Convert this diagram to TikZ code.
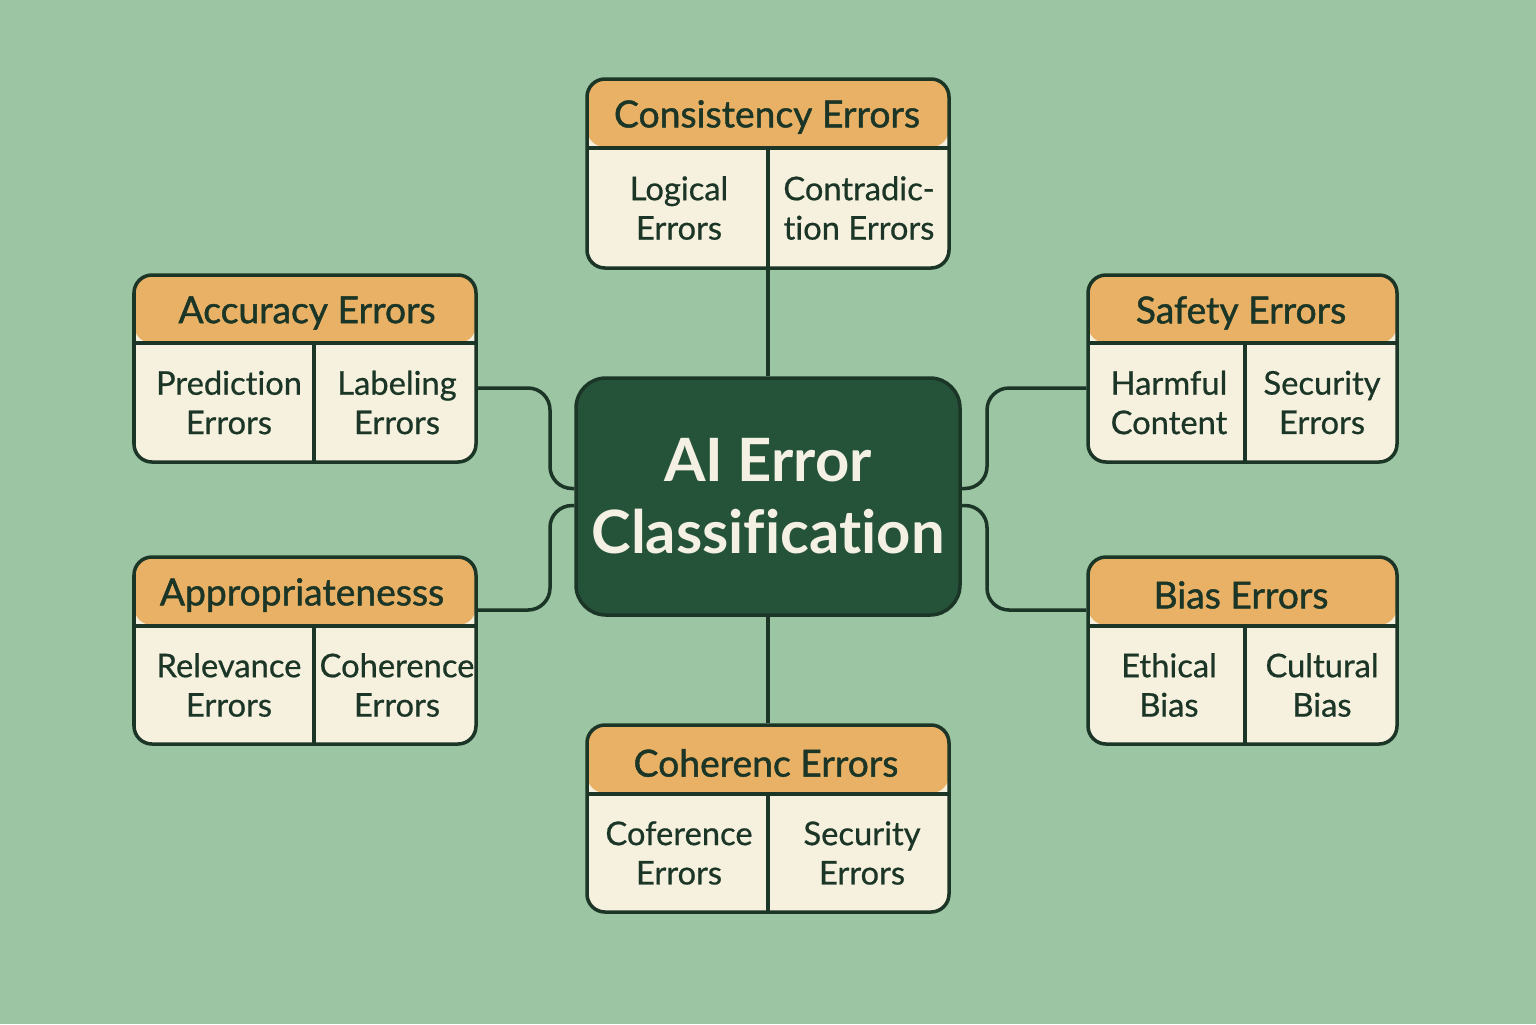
\documentclass[tikz,border=0pt]{standalone}
\usepackage{fontspec}
\setmainfont{Lato}[Ligatures=NoCommon]
\newfontfamily\headfont{Lato}[Ligatures=NoCommon, FakeBold=1.2]
\newfontfamily\cellfont{Lato}[Ligatures=NoCommon, FakeBold=0.6]
\definecolor{bggreen}{HTML}{9CC5A3}
\definecolor{dkgreen}{HTML}{25533A}
\definecolor{ink}{HTML}{1B3526}
\definecolor{headfill}{HTML}{E9B166}
\definecolor{cellfill}{HTML}{F6F1DE}
\definecolor{titletxt}{HTML}{F4F0E3}

\begin{document}
\begin{tikzpicture}[
  catbox/.style={draw=ink, line width=1pt, fill=cellfill, rounded corners=0.18cm, inner sep=0pt,
    path picture={\fill[headfill] (path picture bounding box.north west) rectangle ([yshift=-0.68cm]path picture bounding box.north east);}},
  ctrbox/.style={draw=ink, line width=1pt, fill=dkgreen, rounded corners=0.3cm, inner sep=0pt,
    minimum width=3.84cm, minimum height=2.37cm, text=titletxt, align=center,
    font=\fontsize{17}{20.5}\selectfont\bfseries},
  headtxt/.style={text=ink, font=\fontsize{10.6}{11}\headfont},
  celltxt/.style={text=ink, align=center, font=\fontsize{9.3}{11.2}\cellfont},
  rule/.style={draw=ink, line width=1pt},
  link/.style={draw=ink, line width=1pt, rounded corners=0.22cm}
]
\fill[bggreen] (0,0) rectangle (15.36,-10.24);
\useasboundingbox (0,0) rectangle (15.36,-10.24);

% centre
\node[ctrbox] (ctr) at (7.68,-4.965) {AI Error\\Classification};

% consistency
\node[catbox, minimum width=3.62cm, minimum height=1.89cm] (con) at (7.68,-1.735) {};
\draw[rule] (5.87,-1.48) -- (9.49,-1.48) (7.68,-1.48) -- (7.68,-2.68);
\node[headtxt] (con-h) at (7.67,-1.17) {Consistency Errors};
\node[celltxt] (con-l) at (6.79,-2.08) {Logical\\Errors};
\node[celltxt] (con-r) at (8.59,-2.08) {Contradic-\\tion Errors};

% accuracy
\node[catbox, minimum width=3.42cm, minimum height=1.87cm] (acc) at (3.05,-3.685) {};
\draw[rule] (1.34,-3.43) -- (4.76,-3.43) (3.14,-3.43) -- (3.14,-4.62);
\node[headtxt] (acc-h) at (3.07,-3.13) {Accuracy Errors};
\node[celltxt] (acc-l) at (2.29,-4.025) {Prediction\\Errors};
\node[celltxt] (acc-r) at (3.97,-4.025) {Labeling\\Errors};

% safety
\node[catbox, minimum width=3.09cm, minimum height=1.87cm] (saf) at (12.425,-3.685) {};
\draw[rule] (10.88,-3.43) -- (13.97,-3.43) (12.45,-3.43) -- (12.45,-4.62);
\node[headtxt] (saf-h) at (12.41,-3.13) {Safety Errors};
\node[celltxt] (saf-l) at (11.69,-4.025) {Harmful\\Content};
\node[celltxt] (saf-r) at (13.22,-4.025) {Security\\Errors};

% appropriateness
\node[catbox, minimum width=3.42cm, minimum height=1.87cm] (app) at (3.05,-6.505) {};
\draw[rule] (1.34,-6.26) -- (4.76,-6.26) (3.14,-6.26) -- (3.14,-7.44);
\node[headtxt] (app-h) at (3.02,-5.95) {Appropriatenesss};
\node[celltxt] (app-l) at (2.29,-6.85) {Relevance\\Errors};
\node[celltxt] (app-r) at (3.97,-6.85) {Coherence\\Errors};

% bias
\node[catbox, minimum width=3.09cm, minimum height=1.87cm] (bia) at (12.425,-6.505) {};
\draw[rule] (10.88,-6.26) -- (13.97,-6.26) (12.45,-6.26) -- (12.45,-7.44);
\node[headtxt] (bia-h) at (12.41,-5.95) {Bias Errors};
\node[celltxt] (bia-l) at (11.69,-6.85) {Ethical\\Bias};
\node[celltxt] (bia-r) at (13.22,-6.85) {Cultural\\Bias};

% coherence
\node[catbox, minimum width=3.62cm, minimum height=1.87cm] (coh) at (7.68,-8.185) {};
\draw[rule] (5.87,-7.94) -- (9.49,-7.94) (7.68,-7.94) -- (7.68,-9.12);
\node[headtxt] (coh-h) at (7.66,-7.63) {Coherenc Errors};
\node[celltxt] (coh-l) at (6.79,-8.53) {Coference\\Errors};
\node[celltxt] (coh-r) at (8.62,-8.53) {Security\\Errors};

% links
\draw[link] (con.south) -- (ctr.north);
\draw[link] (ctr.south) -- (coh.north);
\draw[link] ([yshift=-1.95mm]acc.east) -| (5.50,-4.4) |- ([yshift=0.8mm]ctr.west);
\draw[link] ([yshift=4.05mm]app.east) -| (5.50,-5.6) |- ([yshift=-0.9mm]ctr.west);
\draw[link] ([yshift=-1.95mm]saf.west) -| (9.87,-4.4) |- ([yshift=0.8mm]ctr.east);
\draw[link] ([yshift=4.05mm]bia.west) -| (9.87,-5.6) |- ([yshift=-0.9mm]ctr.east);
\end{tikzpicture}
\end{document}
